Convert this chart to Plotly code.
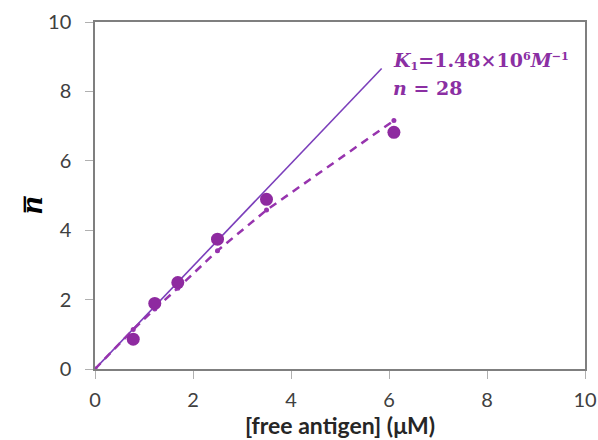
import plotly.graph_objects as go

# data
conc = [0.78, 1.22, 1.69, 2.50, 3.50, 6.10]
nbar = [0.86, 1.89, 2.49, 3.74, 4.89, 6.82]
fit_x = [0, 0.78, 1.22, 1.69, 2.50, 3.50, 6.10]
fit_y = [0, 1.14, 1.73, 2.33, 3.41, 4.58, 7.16]
lin_x = [0, 5.85]
lin_y = [0, 8.66]
xticks = [0, 2, 4, 6, 8, 10]
yticks = [0, 2, 4, 6, 8, 10]

fig = go.Figure()
fig.add_trace(go.Scatter(x=lin_x, y=lin_y, mode="lines",
                         line=dict(color="#7B3FBB", width=1.6), showlegend=False))
fig.add_trace(go.Scatter(x=fit_x, y=fit_y, mode="lines+markers",
                         line=dict(color="#9734AE", width=2.5, dash="8px,6px"),
                         marker=dict(size=5, color="#9734AE"), showlegend=False))
fig.add_trace(go.Scatter(x=conc, y=nbar, mode="markers",
                         marker=dict(size=13, color="#8E2AA0"), showlegend=False))

axis_common = dict(showline=True, linecolor="#7f7f7f", linewidth=1.5, mirror=True,
                   ticks="outside", ticklen=8, tickcolor="#b0b0b0", showgrid=False,
                   zeroline=False, automargin=False,
                   tickfont=dict(family="Lato, Open Sans, sans-serif", size=20, color="#404040"))
fig.update_xaxes(range=[0, 10], tickvals=xticks, ticklabelstandoff=4, **axis_common,
                 title=dict(text="<b>[free antigen] (μM)</b>", standoff=6,
                            font=dict(family="Lato, Open Sans, sans-serif", size=23, color="#262626")))
fig.update_yaxes(range=[0, 10], tickvals=yticks, ticklabelstandoff=10, **axis_common)

fig.add_annotation(xref="paper", yref="paper", x=-0.171, y=0.473, showarrow=False,
                   text="<b><i>n\u0305</i></b>", textangle=-90,
                   font=dict(family="Liberation Serif, serif", size=32, color="#000000"))
fig.add_annotation(xref="paper", yref="paper", x=0.605, y=0.929, xanchor="left", showarrow=False,
                   text="<b><i>K</i><span style='font-size:16px'><sub>1</sub></span>=1.48×10"
                        "<span style='font-size:16px'><sup>6</sup></span><i>M</i>"
                        "<span style='font-size:16px'><sup>−1</sup></span></b>",
                   font=dict(family="DejaVu Serif, serif", size=19, color="#8B2FA3"))
fig.add_annotation(xref="paper", yref="paper", x=0.605, y=0.848, xanchor="left", showarrow=False,
                   text="<b><i>n</i> = 28</b>",
                   font=dict(family="DejaVu Serif, serif", size=19, color="#8B2FA3"))

fig.update_layout(width=598, height=440, margin=dict(l=95, r=13, t=22, b=71),
                  plot_bgcolor="white", paper_bgcolor="white")
fig.write_html("out.html", config={"displayModeBar": False},
               post_script="document.body.style.margin='0';")
